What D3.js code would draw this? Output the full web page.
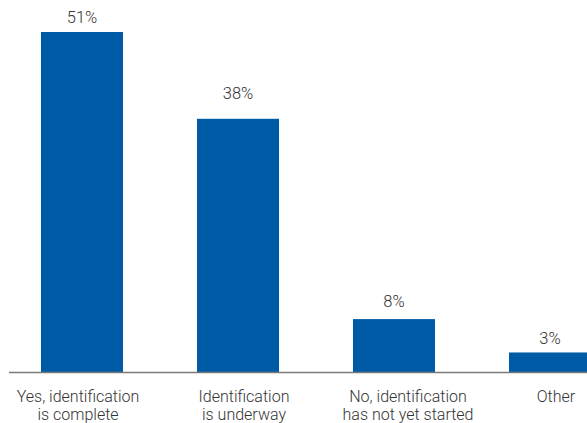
<!DOCTYPE html>
<html>
<head>
<meta charset="utf-8">
<script src="https://cdn.jsdelivr.net/npm/d3@7"></script>
<style>
  body { margin: 0; background: #fff; }
  svg { display: block; }
  text { font-family: Roboto, "Open Sans", sans-serif; font-weight: 300; fill: #333; }
</style>
</head>
<body>
<div id="chart"></div>
<script>
// values
var categories = ['yes', 'underway', 'no', 'other'];
var categoryLines = [
  ['Yes, identification', 'is complete'],
  ['Identification', 'is underway'],
  ['No, identification', 'has not yet started'],
  ['Other']
];
var values = [51, 38, 8, 3];

var BAR_COLOR = '#005ba6';
var AXIS_COLOR = '#7a7a7a';
var width = 587, height = 423;

var svg = d3.select('#chart').append('svg')
  .attr('width', width)
  .attr('height', height);

var x = d3.scaleBand()
  .domain(categories)
  .range([41, 591])
  .paddingInner(74 / 156)
  .paddingOuter(0);

var y = d3.scaleLinear()
  .domain([0, 51])
  .range([372.5, 32]);

svg.append('g')
  .selectAll('rect')
  .data(values)
  .enter()
  .append('rect')
  .attr('x', function(d, i) { return x(categories[i]); })
  .attr('y', function(d) { return y(d); })
  .attr('width', x.bandwidth())
  .attr('height', function(d) { return y(0) - y(d); })
  .attr('fill', BAR_COLOR);

// baseline
svg.append('line')
  .attr('x1', 9)
  .attr('x2', width)
  .attr('y1', y(0))
  .attr('y2', y(0))
  .attr('stroke', AXIS_COLOR)
  .attr('stroke-width', 1.5);

// value labels (gap above each bar as in the original)
var valueGap = [9, 20, 12, 8];
svg.append('g')
  .selectAll('text')
  .data(values)
  .enter()
  .append('text')
  .attr('x', function(d, i) { return x(categories[i]) + x.bandwidth() / 2; })
  .attr('y', function(d, i) { return y(d) - valueGap[i]; })
  .attr('text-anchor', 'middle')
  .attr('font-size', '16.5px')
  .text(function(d) { return d + '%'; });

// category labels, slightly off the bar centres like the original
var labelShift = [-4, 6, 14, 6];
var catLabel = svg.append('g')
  .selectAll('text')
  .data(categoryLines)
  .enter()
  .append('text')
  .attr('text-anchor', 'middle')
  .attr('font-size', '16px')
  .attr('transform', function(d, i) {
    return 'translate(' + (x(categories[i]) + x.bandwidth() / 2 + labelShift[i]) + ',401.5)';
  });

catLabel.selectAll('tspan')
  .data(function(d) { return d; })
  .enter()
  .append('tspan')
  .attr('x', 0)
  .attr('dy', function(d, i) { return i === 0 ? 0 : 18.5; })
  .text(function(d) { return d; });
</script>
</body>
</html>
